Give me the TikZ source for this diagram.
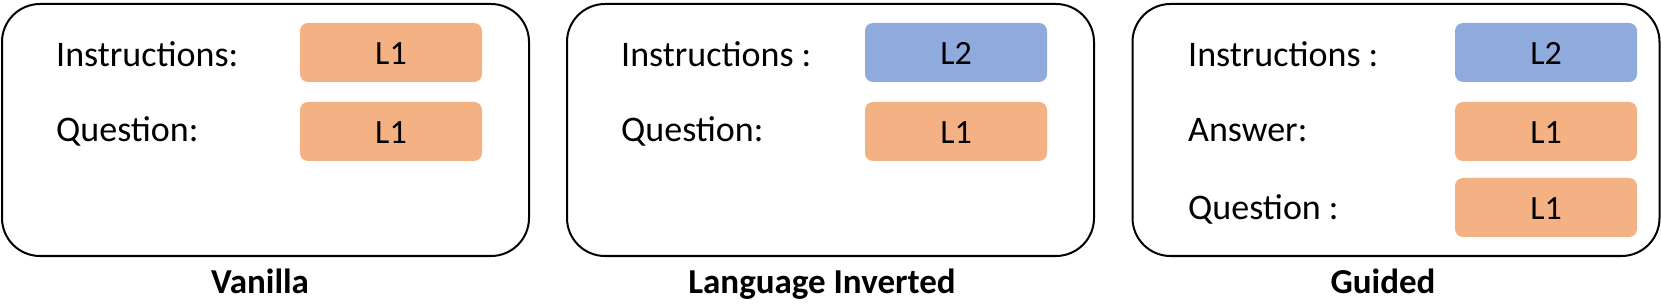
\documentclass[tikz,border=0pt]{standalone}
\usepackage{fontspec}
\setmainfont{Carlito}
\definecolor{lorange}{HTML}{F4B183}
\definecolor{lblue}{HTML}{8FAADC}
\begin{document}
\begin{tikzpicture}[x=1pt,y=-1pt,
  panel/.style={draw=black,line width=2pt,rounded corners=38pt,minimum width=527pt,minimum height=252pt,inner sep=0pt},
  langbox/.style={rounded corners=8pt,minimum width=182pt,minimum height=59pt,inner sep=0pt},
  orangebox/.style={langbox,fill=lorange},
  bluebox/.style={langbox,fill=lblue},
  lbl/.style={anchor=base west,inner sep=0pt,font=\fontsize{36}{40}\selectfont},
  ltxt/.style={anchor=base,inner sep=0pt,font=\fontsize{34}{38}\selectfont},
  captxt/.style={anchor=base,inner sep=0pt,font=\fontsize{35}{40}\selectfont\bfseries}]
\useasboundingbox (0,0) rectangle (1661,304);
% panels
\node[panel] (p1) at (265.5,130) {};
\node[panel] (p2) at (830.5,130) {};
\node[panel] (p3) at (1396,130) {};
% panel 1
\node[lbl] (t11) at (56,67) {Instructions:};
\node[lbl] (t12) at (56,142) {Question:};
\node[orangebox] (b11) at (391,52.5) {};
\node[orangebox] (b12) at (391,131.5) {};
\node[ltxt] (l11) at (391,64.5) {L1};
\node[ltxt] (l12) at (391,143.5) {L1};
\node[captxt] (c1) at (260,293) {Vanilla};
% panel 2
\node[lbl] (t21) at (621,67) {Instructions :};
\node[lbl] (t22) at (621,142) {Question:};
\node[bluebox] (b21) at (956,52.5) {};
\node[orangebox] (b22) at (956,131.5) {};
\node[ltxt] (l21) at (956,64.5) {L2};
\node[ltxt] (l22) at (956,143.5) {L1};
\node[captxt] (c2) at (822,293) {Language Inverted};
% panel 3
\node[lbl] (t31) at (1188,67) {Instructions :};
\node[lbl] (t32) at (1188,142) {Answer:};
\node[lbl] (t33) at (1188,220) {Question :};
\node[bluebox] (b31) at (1546,52.5) {};
\node[orangebox] (b32) at (1546,131.5) {};
\node[orangebox] (b33) at (1546,207.5) {};
\node[ltxt] (l31) at (1546,64.5) {L2};
\node[ltxt] (l32) at (1546,143.5) {L1};
\node[ltxt] (l33) at (1546,219.5) {L1};
\node[captxt] (c3) at (1383,293) {Guided};
\end{tikzpicture}
\end{document}
